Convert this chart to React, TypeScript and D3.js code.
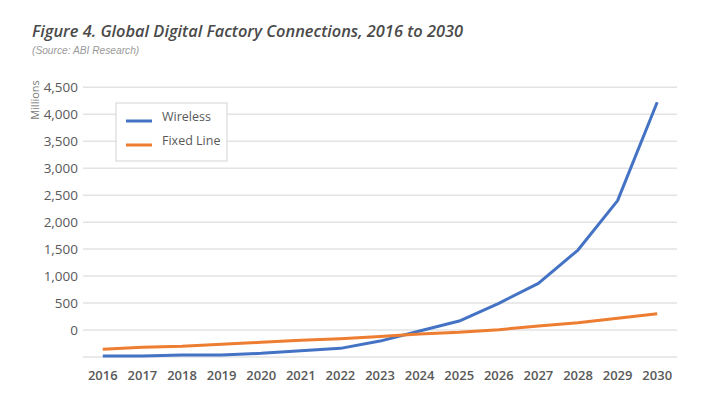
import React from "react";
import * as d3 from "d3";

const years = ["2016","2017","2018","2019","2020","2021","2022","2023","2024","2025","2026","2027","2028","2029","2030"];
const wireless = [-480, -480, -465, -463, -432, -383, -340, -205, -18, 167, 495, 866, 1483, 2398, 4222];
const fixedLine = [-358, -321, -302, -265, -228, -191, -161, -120, -74, -43, 6, 74, 135, 217, 302];
const yTicks = [-500, 0, 500, 1000, 1500, 2000, 2500, 3000, 3500, 4000, 4500];
const series = [
  { name: "Wireless", values: wireless, color: "#4472C4" },
  { name: "Fixed Line", values: fixedLine, color: "#ED7D31" },
];

const W = 714, H = 404;
const left = 83, right = 677, top = 87.3, bottom = 357;

export default function App() {
  const x = d3.scalePoint<string>().domain(years).range([left, right]).padding(0.5);
  const y = d3.scaleLinear().domain([-500, 4500]).range([bottom, top]);
  const line = d3.line<number>().x((_, i) => x(years[i]) as number).y((d) => y(d));
  const font = "'Open Sans', sans-serif";
  return (
    <svg width={W} height={H} style={{ position: "absolute", left: 0, top: 0, background: "#fff" }} fontFamily={font}>
      <text x={32} y={37} fontSize={16.3} fontWeight={600} fontStyle="italic" fill="#4a4a4a" textLength={431} lengthAdjust="spacingAndGlyphs">
        Figure 4. Global Digital Factory Connections, 2016 to 2030
      </text>
      <text x={32} y={54} fontSize={10.2} fontStyle="italic" fill="#9a9a9a" fontFamily="'Liberation Sans', Arial, sans-serif">
        (Source: ABI Research)
      </text>
      {yTicks.map((t) => (
        <g key={t}>
          <line x1={left} x2={right} y1={y(t)} y2={y(t)} stroke="#e3e3e3" strokeWidth={1.5} />
          {t !== -500 && (
            <text x={78} y={y(t)} dy="0.35em" textAnchor="end" fontSize={13.5} fill="#595959">
              {d3.format(",")(t)}
            </text>
          )}
        </g>
      ))}
      <text transform={`translate(39,100) rotate(-90)`} textAnchor="middle" fontSize={11} fill="#7a7a7a">
        Millions
      </text>
      {years.map((yr) => (
        <text key={yr} x={x(yr)} y={380} textAnchor="middle" fontSize={13} fontWeight={600} fill="#595959">
          {yr}
        </text>
      ))}
      {series.map((s) => (
        <path key={s.name} d={line(s.values) || ""} fill="none" stroke={s.color} strokeWidth={3} strokeLinejoin="round" />
      ))}
      <rect x={116} y={103} width={111} height={58} fill="#fff" stroke="#d4d4d4" strokeWidth={1} />
      {series.map((s, i) => (
        <g key={s.name}>
          <line x1={126} x2={152} y1={121 + i * 24} y2={121 + i * 24} stroke={s.color} strokeWidth={3} />
          <text x={162} y={121 + i * 24} fontSize={12.5} fill="#595959">
            {s.name}
          </text>
        </g>
      ))}
    </svg>
  );
}
